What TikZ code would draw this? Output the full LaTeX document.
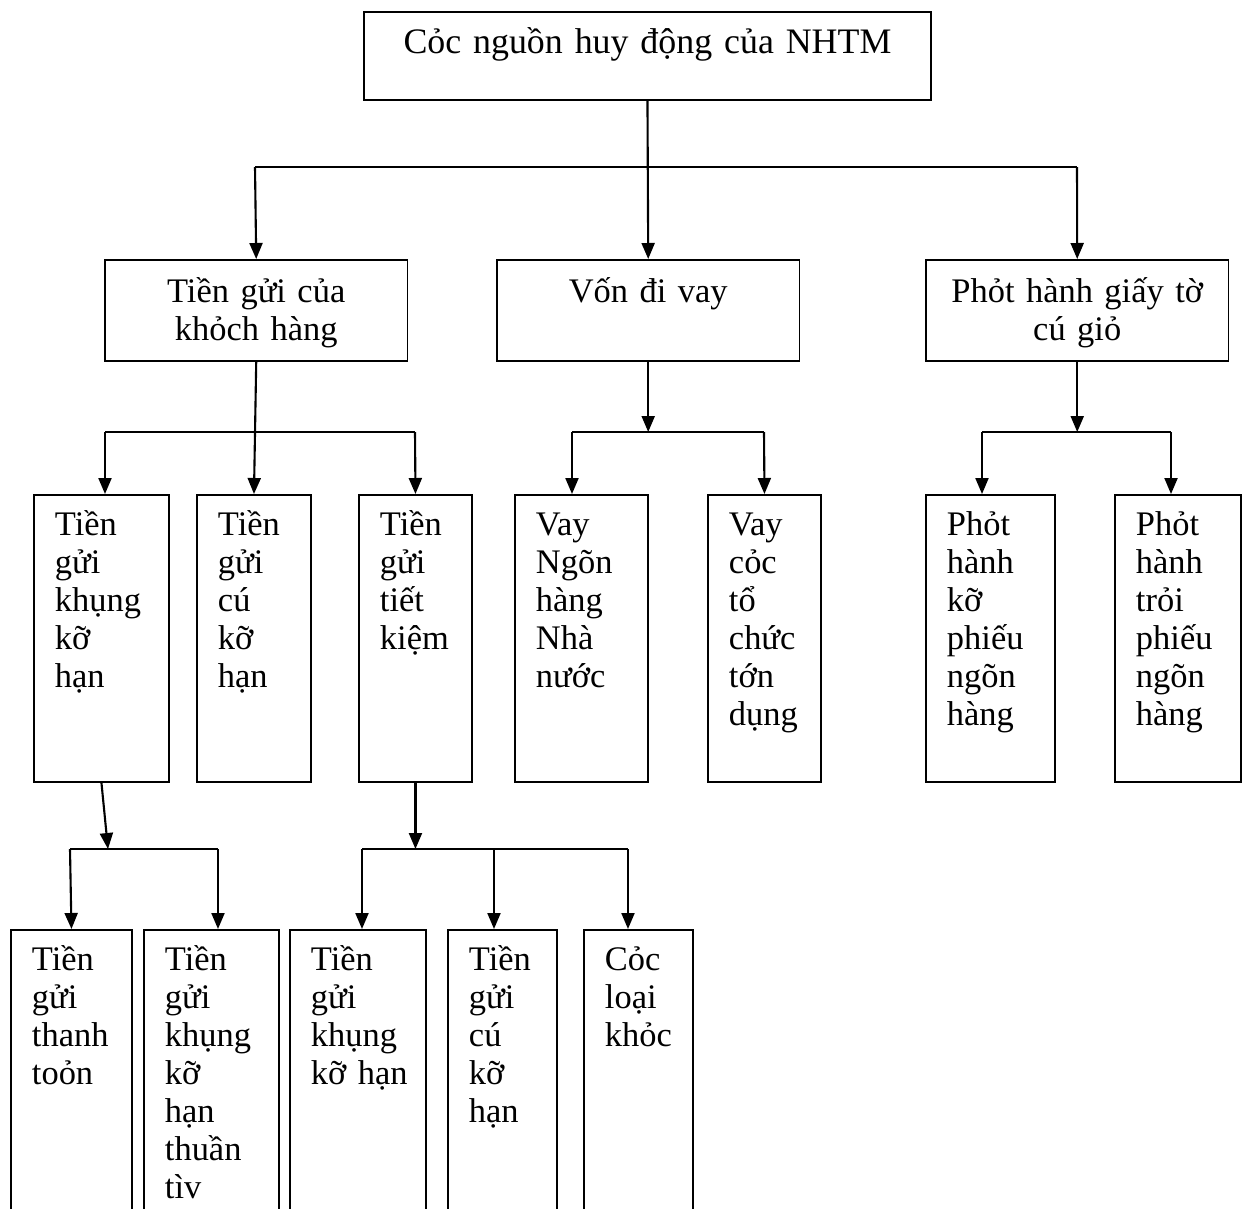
\documentclass[tikz,border=0pt]{standalone}
\usepackage{fontspec}
\setmainfont{Liberation Serif}
\usetikzlibrary{arrows.meta}

\begin{document}
\begin{tikzpicture}[
      box/.style={rectangle, draw, line width=1.1pt, anchor=north west,
        inner xsep=0.42cm, inner ysep=0pt, text height=0.82cm,
        font=\fontsize{19.6pt}{21.6pt}\selectfont},
      head/.style={box, align=center, text width=10.50cm, text height=0.84cm, text depth=0.92cm,
        font=\fontsize{20.4pt}{22.4pt}\selectfont},
      group/.style={box, align=center, text width=5.21cm, text height=0.86cm, text depth=1.16cm},
      item/.style={box, align=left, text depth=4.92cm},
      leaf/.style={box, align=left, text depth=4.92cm},
      line/.style={line width=1.2pt},
      arrow/.style={-{Triangle[length=3.2mm, width=2.6mm]}, line width=1.2pt}
    ]
    \useasboundingbox (0,0) rectangle (24.86,-24.16);

    \node[head] (top) at (7.26,-0.22) {Cỏc nguồn huy động của NHTM};
    \node[group] (dep) at (2.08,-5.18) {Tiền gửi của\\khỏch hàng};
    \node[group] (loan) at (9.92,-5.18) {Vốn đi vay};
    \node[group] (paper) at (18.50,-5.18) {Phỏt hành giấy tờ\\cú giỏ};

    \node[item, text width=1.86cm] (t1) at (0.66,-9.88) {Tiền\\gửi\\khụng\\kỡ\\hạn};
    \node[item, text width=1.44cm] (t2) at (3.92,-9.88) {Tiền\\gửi\\cú\\kỡ\\hạn};
    \node[item, text width=1.42cm] (t3) at (7.16,-9.88) {Tiền\\gửi\\tiết\\kiệm};
    \node[item, text width=1.82cm] (v1) at (10.28,-9.88) {Vay\\Ngõn\\hàng\\Nhà\\nước};
    \node[item, text width=1.42cm] (v2) at (14.14,-9.88) {Vay\\cỏc\\tổ\\chức\\tớn\\dụng};
    \node[item, text width=1.74cm] (p1) at (18.50,-9.88) {Phỏt\\hành\\kỡ\\phiếu\\ngõn\\hàng};
    \node[item, text width=1.68cm] (p2) at (22.28,-9.88) {Phỏt\\hành\\trỏi\\phiếu\\ngõn\\hàng};

    \node[leaf, text width=1.58cm] (d1) at (0.20,-18.58) {Tiền\\gửi\\thanh\\toỏn};
    \node[leaf, text width=1.86cm] (d2) at (2.86,-18.58) {Tiền\\gửi\\khụng\\kỡ\\hạn\\thuần\\tìv};
    \node[leaf, text width=1.88cm] (s1) at (5.78,-18.58) {Tiền\\gửi\\khụng\\kỡ~hạn};
    \node[leaf, text width=1.34cm] (s2) at (8.94,-18.58) {Tiền\\gửi\\cú\\kỡ\\hạn};
    \node[leaf, text width=1.34cm] (s3) at (11.66,-18.58) {Cỏc\\loại\\khỏc};

    \coordinate (b1l) at (5.10,-3.34);
    \coordinate (b1r) at (21.54,-3.34);
    \coordinate (b2l) at (2.10,-8.64);
    \coordinate (b2r) at (8.30,-8.64);
    \coordinate (b3l) at (11.44,-8.64);
    \coordinate (b3r) at (15.28,-8.64);
    \coordinate (b4l) at (19.64,-8.64);
    \coordinate (b4r) at (23.42,-8.64);
    \coordinate (b5l) at (1.40,-16.98);
    \coordinate (b5t) at (2.16,-16.98);
    \coordinate (b5r) at (4.36,-16.98);
    \coordinate (b6l) at (7.24,-16.98);
    \coordinate (b6m) at (9.88,-16.98);
    \coordinate (b6r) at (12.56,-16.98);

    \draw[arrow] (top.south) -- (loan.north);
    \draw[line] (b1l) -- (b1r);
    \draw[arrow] (b1l) -- (dep.north);
    \draw[arrow] (b1r) -- (paper.north);

    \draw[arrow] (dep.south) -- (t2.north);
    \draw[line] (b2l) -- (b2r);
    \draw[arrow] (b2l) -- (b2l |- t1.north);
    \draw[arrow] (b2r) -- (t3.north);

    \draw[arrow] (loan.south) -- (loan.south |- b3l);
    \draw[line] (b3l) -- (b3r);
    \draw[arrow] (b3l) -- (b3l |- v1.north);
    \draw[arrow] (b3r) -- (v2.north);

    \draw[arrow] (paper.south) -- (paper.south |- b4l);
    \draw[line] (b4l) -- (b4r);
    \draw[arrow] (b4l) -- (b4l |- p1.north);
    \draw[arrow] (b4r) -- (b4r |- p2.north);

    \draw[arrow] (t1.south) -- (b5t);
    \draw[line] (b5l) -- (b5r);
    \draw[arrow] (b5l) -- (d1.north);
    \draw[arrow] (b5r) -- (b5r |- d2.north);

    \draw[arrow] (t3.south) -- (t3.south |- b6l);
    \draw[line] (b6l) -- (b6r);
    \draw[arrow] (b6l) -- (b6l |- s1.north);
    \draw[arrow] (b6m) -- (b6m |- s2.north);
    \draw[arrow] (b6r) -- (b6r |- s3.north);
  \end{tikzpicture}
\end{document}
